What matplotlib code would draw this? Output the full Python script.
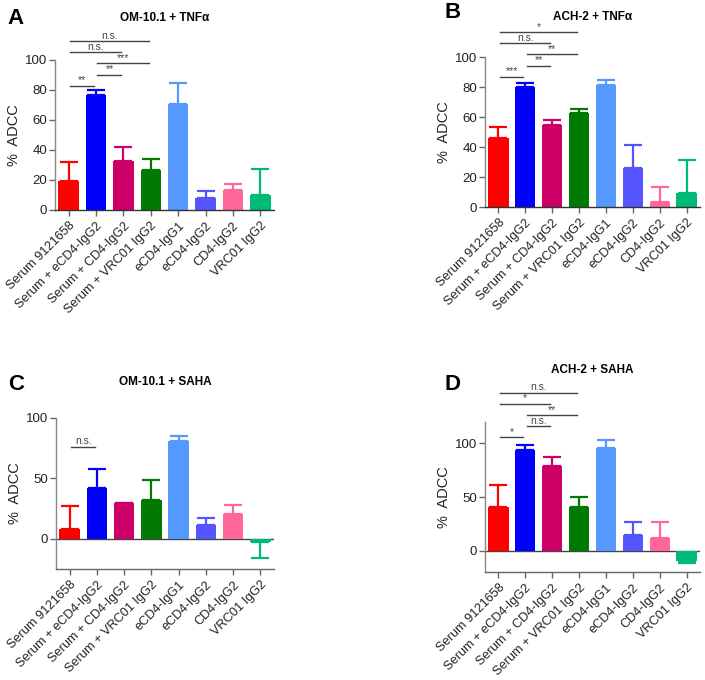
import matplotlib
matplotlib.use("Agg")
import matplotlib.pyplot as plt

plt.rcParams['font.family'] = ['Liberation Sans', 'DejaVu Sans']

categories = ["Serum 9121658", "Serum + eCD4-IgG2", "Serum + CD4-IgG2",
              "Serum + VRC01 IgG2", "eCD4-IgG1", "eCD4-IgG2", "CD4-IgG2",
              "VRC01 IgG2"]
bar_colors = ["#FF0000", "#0000FF", "#CC0066", "#007A00", "#5599FF",
              "#5555FF", "#FF6699", "#00BB77"]

# Panel A: OM-10.1 + TNFa
a_values = [19.3, 76.4, 32.9, 26.4, 70.4, 8.0, 13.6, 10.2]
a_errors = [12.5, 3.4, 9.1, 7.8, 14.3, 4.9, 3.5, 16.9]
a_sig = [(0, 1, "**"), (1, 2, "**"), (1, 3, "***"), (0, 2, "n.s."), (0, 3, "n.s.")]

# Panel B: ACH-2 + TNFa
b_values = [46.2, 80.0, 54.9, 62.7, 81.1, 26.2, 3.6, 9.3]
b_errors = [7.4, 2.7, 3.3, 2.6, 3.3, 15.1, 9.5, 22.3]
b_sig = [(0, 1, "***"), (1, 2, "**"), (1, 3, "**"), (0, 2, "n.s."), (0, 3, "*")]

# Panel C: OM-10.1 + SAHA
c_values = [8.3, 42.2, 29.4, 31.9, 81.1, 11.7, 20.3, -2.8]
c_errors = [18.9, 15.3, 0.6, 16.7, 4.2, 5.5, 7.5, 13.3]
c_sig = [(0, 1, "n.s.")]

# Panel D: ACH-2 + SAHA
d_values = [40.8, 93.5, 79.4, 40.8, 96.0, 15.0, 11.5, -9.3]
d_errors = [20.6, 5.3, 7.8, 9.0, 7.0, 11.5, 15.0, 2.5]
d_sig = [(0, 1, "*"), (1, 2, "n.s."), (1, 3, "**"), (0, 2, "*"), (0, 3, "n.s.")]

panels = [
    dict(letter="A", title="OM-10.1 + TNF\u03b1", values=a_values, errors=a_errors,
         sig=a_sig, ylim=(0, 100), yticks=[0, 20, 40, 60, 80, 100],
         rect=[55/705, 1-210/680, 219/705, 150/680], sig_base=82.9,
         letter_xy=(7/705, 1-18/680), title_y=1-18/680),
    dict(letter="B", title="ACH-2 + TNF\u03b1", values=b_values, errors=b_errors,
         sig=b_sig, ylim=(0, 100), yticks=[0, 20, 40, 60, 80, 100],
         rect=[485/705, 1-207/680, 215/705, 150/680], sig_base=86.9,
         letter_xy=(445/705, 1-12/680), title_y=1-17/680),
    dict(letter="C", title="OM-10.1 + SAHA", values=c_values, errors=c_errors,
         sig=c_sig, ylim=(-25, 100), yticks=[0, 50, 100],
         rect=[56/705, 1-569/680, 218/705, 151/680], sig_base=76.4,
         letter_xy=(8/705, 1-384/680), title_y=1-382/680),
    dict(letter="D", title="ACH-2 + SAHA", values=d_values, errors=d_errors,
         sig=d_sig, ylim=(-20, 120), yticks=[0, 50, 100],
         rect=[485/705, 1-572/680, 215/705, 150/680], sig_base=105.6,
         letter_xy=(445/705, 1-385/680), title_y=1-370/680),
]

fig = plt.figure(figsize=(7.05, 6.8), dpi=100)
spine_col = "#666666"

for p in panels:
    ax = fig.add_axes(p["rect"])
    x = list(range(len(categories)))
    vals = p["values"]
    errs = p["errors"]
    ax.bar(x, vals, width=0.75, color=bar_colors, zorder=2)
    for xi, v, e, c in zip(x, vals, errs, bar_colors):
        if v >= 0:
            yerr = [[0], [e]]
        else:
            yerr = [[e], [0]]
        ax.errorbar([xi], [v], yerr=yerr, fmt='none', ecolor=c, elinewidth=1.6,
                    capsize=6.5, capthick=1.6, zorder=3)
    ax.set_xlim(-0.5, len(categories) - 0.5)
    ax.set_ylim(*p["ylim"])
    ax.set_yticks(p["yticks"])
    ax.set_xticks(x)
    ax.set_xticklabels(categories, rotation=45, ha='right', rotation_mode='anchor',
                       fontsize=9.2, color="#222222")
    ax.tick_params(axis='y', labelsize=9.5, length=4, width=1, color=spine_col,
                   pad=1.5, labelcolor="#222222")
    ax.tick_params(axis='x', length=4, width=1, color=spine_col, pad=3)
    for s in ["top", "right"]:
        ax.spines[s].set_visible(False)
    ax.spines["left"].set_color("#888888")
    ax.spines["left"].set_linewidth(1)
    ax.spines["bottom"].set_color("#333333")
    ax.spines["bottom"].set_linewidth(1)
    if p["ylim"][0] < 0:
        ax.axhline(0, color="#444444", lw=1, zorder=1)
        ax.spines["bottom"].set_color("#666666")
    ax.set_ylabel("%  ADCC", fontsize=10.5, labelpad=3, color="#222222")

    # significance brackets
    yr = p["ylim"][1] - p["ylim"][0]
    step = 0.074 * yr
    for k, (i, j, lab) in enumerate(p["sig"]):
        yy = p["sig_base"] + k * step
        ax.plot([i + 0.05, j - 0.08], [yy, yy], color="#444444", lw=1,
                clip_on=False, zorder=4)
        ax.text((i + j) / 2, yy + 0.004 * yr, lab, ha='center', va='bottom',
                fontsize=7.5, color="#444444", clip_on=False)

    # title and panel letter
    cx = p["rect"][0] + p["rect"][2] / 2
    fig.text(cx, p["title_y"], p["title"], ha='center', va='center',
             fontsize=8.5, fontweight='bold')
    fig.text(p["letter_xy"][0], p["letter_xy"][1], p["letter"], ha='left',
             va='center', fontsize=16, fontweight='bold')

fig.savefig("out.png", dpi=100)
